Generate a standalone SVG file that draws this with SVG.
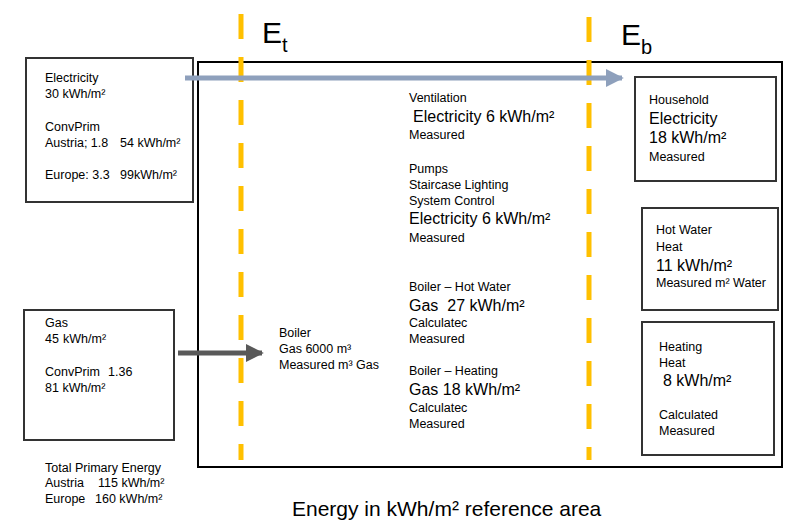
<svg xmlns="http://www.w3.org/2000/svg" width="798" height="520" viewBox="0 0 798 520" xml:space="preserve">
  <defs>
    <style>
      text { font-family: "Liberation Sans", Arial, sans-serif; fill: #000; }
      .s { font-size: 12.5px; }
      .m { font-size: 16px; }
      .big { font-size: 30px; }
      .title { font-size: 21px; }
      .box { fill: #fff; stroke: #333; stroke-width: 2; }
      .frame { fill: #fff; stroke: #000; stroke-width: 2; }
      .boundary { stroke: #FFC000; stroke-width: 5; stroke-dasharray: 25 18; fill: none; }
    </style>
    <marker id="headBlue" viewBox="0 0 10 10" refX="9" refY="5" markerWidth="3.6" markerHeight="3.6" orient="auto" markerUnits="strokeWidth">
      <path d="M0,0 L10,5 L0,10 Z" fill="#8EA0BC"/>
    </marker>
    <marker id="headGrey" viewBox="0 0 10 10" refX="9" refY="5" markerWidth="3.6" markerHeight="3.6" orient="auto" markerUnits="strokeWidth">
      <path d="M0,0 L10,5 L0,10 Z" fill="#595959"/>
    </marker>
  </defs>

  <rect width="798" height="520" fill="#fff"/>

  <!-- building envelope -->
  <g id="building">
    <rect class="frame" x="198" y="62" width="584" height="405"/>
  </g>

  <!-- supply side -->
  <g id="electricity-supply">
    <rect class="box" x="26" y="58" width="167" height="144"/>
    <text class="s" x="45" y="82">Electricity</text>
    <text class="s" x="45" y="98">30 kWh/m²</text>
    <text class="s" x="45" y="131">ConvPrim</text>
    <text class="s" x="45" y="147">Austria; 1.8</text>
    <text class="s" x="120" y="147">54 kWh/m²</text>
    <text class="s" x="45" y="179">Europe: 3.3</text>
    <text class="s" x="120" y="179">99kWh/m²</text>
  </g>

  <g id="gas-supply">
    <rect class="box" x="24" y="310" width="150" height="130"/>
    <text class="s" x="45" y="327">Gas</text>
    <text class="s" x="45" y="343">45</text>
    <text class="s" x="63" y="343">kWh/m²</text>
    <text class="s" x="45" y="376">ConvPrim</text>
    <text class="s" x="108" y="376">1.36</text>
    <text class="s" x="45" y="392">81 kWh/m²</text>
  </g>

  <g id="total-primary">
    <text class="s" x="45" y="472">Total Primary Energy</text>
    <text class="s" x="45" y="487">Austria</text>
    <text class="s" x="98" y="487">115 kWh/m²</text>
    <text class="s" x="45" y="503">Europe</text>
    <text class="s" x="95" y="503">160 kWh/m²</text>
  </g>

  <!-- balance boundaries -->
  <g id="boundaries">
    <line class="boundary" x1="241" y1="14" x2="241" y2="460"/>
    <line class="boundary" x1="589" y1="17" x2="589" y2="460"/>
    <text class="big" x="262" y="43">E<tspan font-size="20" dy="9">t</tspan></text>
    <text class="big" x="621" y="45">E<tspan font-size="20" dy="9">b</tspan></text>
  </g>

  <!-- connectors -->
  <g id="connectors">
    <line x1="185" y1="78" x2="622" y2="78" stroke="#8EA0BC" stroke-width="5" marker-end="url(#headBlue)"/>
    <line x1="178" y1="353" x2="262" y2="353" stroke="#595959" stroke-width="5" marker-end="url(#headGrey)"/>
  </g>

  <!-- conversion -->
  <g id="boiler">
    <text class="s" x="279" y="337">Boiler</text>
    <text class="s" x="279" y="353">Gas 6000 m³</text>
    <text class="s" x="279" y="369">Measured m³ Gas</text>
  </g>

  <g id="ventilation">
    <text class="s" x="409" y="102">Ventilation</text>
    <text class="m" x="413" y="122">Electricity 6 kWh/m²</text>
    <text class="s" x="409" y="139">Measured</text>
  </g>

  <g id="auxiliary">
    <text class="s" x="409" y="173">Pumps</text>
    <text class="s" x="409" y="189">Staircase Lighting</text>
    <text class="s" x="409" y="205">System Control</text>
    <text class="m" x="409" y="224">Electricity 6 kWh/m²</text>
    <text class="s" x="409" y="242">Measured</text>
  </g>

  <g id="boiler-hot-water">
    <text class="s" x="409" y="291">Boiler – Hot Water</text>
    <text class="m" x="409" y="311">Gas&#160; 27 kWh/m²</text>
    <text class="s" x="409" y="327">Calculatec</text>
    <text class="s" x="409" y="343">Measured</text>
  </g>

  <g id="boiler-heating">
    <text class="s" x="409" y="375">Boiler – Heating</text>
    <text class="m" x="409" y="395">Gas 18 kWh/m²</text>
    <text class="s" x="409" y="412">Calculatec</text>
    <text class="s" x="409" y="428">Measured</text>
  </g>

  <!-- end use -->
  <g id="household">
    <rect class="box" x="635" y="77" width="141" height="104"/>
    <text class="s" x="649" y="104">Household</text>
    <text class="m" x="649" y="124">Electricity</text>
    <text class="m" x="649" y="143">18 kWh/m²</text>
    <text class="s" x="649" y="161">Measured</text>
  </g>

  <g id="hot-water">
    <rect class="box" x="642" y="208" width="136" height="102"/>
    <text class="s" x="656" y="234">Hot Water</text>
    <text class="s" x="656" y="251">Heat</text>
    <text class="m" x="656" y="271">11 kWh/m²</text>
    <text class="s" x="656" y="287">Measured m² Water</text>
  </g>

  <g id="heating">
    <rect class="box" x="642" y="322" width="132" height="133"/>
    <text class="s" x="659" y="351">Heating</text>
    <text class="s" x="659" y="367">Heat</text>
    <text class="m" x="663" y="386">8 kWh/m²</text>
    <text class="s" x="659" y="419">Calculated</text>
    <text class="s" x="659" y="435">Measured</text>
  </g>

  <g id="caption">
    <text class="title" x="292" y="516">Energy in kWh/m² reference area</text>
  </g>
</svg>
